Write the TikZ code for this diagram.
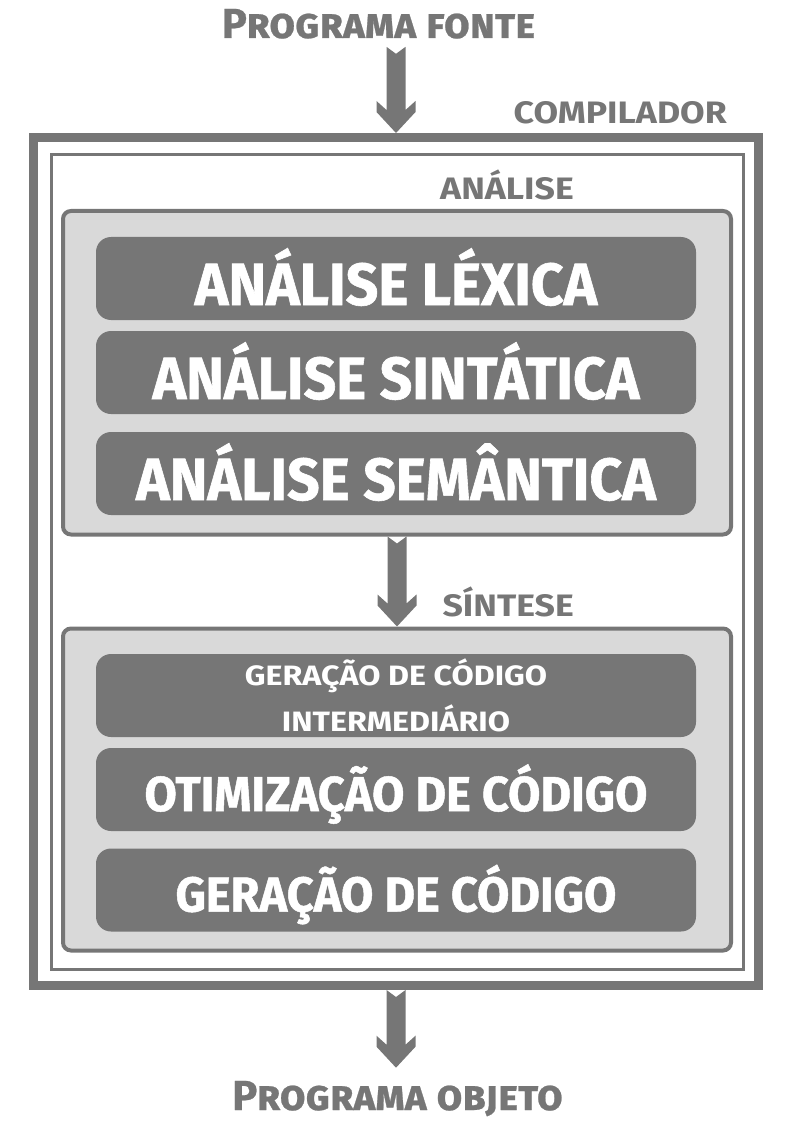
\documentclass[tikz,border=0pt]{standalone}
\usepackage{fontspec}
\setmainfont{Fira Sans}
\newfontfamily\phasefont[FakeStretch=0.958, FakeBold=1]{Fira Sans}
\newfontfamily\tagfont[FakeStretch=1.15]{Fira Sans}
\newfontfamily\titlefont[FakeStretch=1.0, FakeBold=0.6]{Fira Sans}
\usepackage{tikz}
\usetikzlibrary{positioning}
\usetikzlibrary{calc}
\definecolor{boxgray}{RGB}{118,118,118}
\definecolor{panelgray}{RGB}{217,217,217}
\newcommand{\blockarrow}[2]{ % Takes tail point and tip point as arguments, notched tail, head pointing down
    \fill[boxgray] ($(#1)+(-9.5,0)$) -- ($(#1)+(0,7)$) -- ($(#1)+(9.5,0)$) -- ($(#2)+(9.5,-23)$) -- ($(#2)+(19.5,-32)$) -- ($(#2)+(19.5,-21)$) -- (#2) -- ($(#2)+(-19.5,-21)$) -- ($(#2)+(-19.5,-32)$) -- ($(#2)+(-9.5,-23)$) -- cycle;
}
\tikzset{
    group/.style={draw=boxgray, fill=panelgray, line width=4pt, rounded corners=8pt, minimum width=668pt},
    phase/.style={fill=boxgray, rounded corners=15pt, minimum width=600pt, minimum height=83pt, text=white, inner sep=0pt},
    bigphase/.style={phase, text height=53pt, text depth=0pt, font=\phasefont\bfseries\fontsize{59.5}{60}\selectfont},
    midphase/.style={phase, text height=43pt, text depth=0pt, font=\phasefont\bfseries\fontsize{49}{50}\selectfont},
    tag/.style={text=boxgray, inner sep=0pt, font=\tagfont\bfseries\fontsize{31}{31}\selectfont},
    title/.style={text=boxgray, inner sep=0pt, font=\titlefont\bfseries\scshape\fontsize{42}{42}\selectfont}
}

\begin{document}
\begin{tikzpicture}[x=1pt, y=-1pt]
        \useasboundingbox (0,0) rectangle (794,1123);

        % Compiler frames
        \node[draw=boxgray, line width=9pt, minimum width=725pt, minimum height=848pt, inner sep=0pt] (comp) at (396,561.5) {};
        \node[draw=boxgray, line width=3pt, minimum width=692pt, minimum height=815pt, inner sep=0pt] (frame) at (397.75,562) {};
        \node[tag, anchor=base east] (compname) at (727,124) {COMPILADOR};

        % Input and output
        \node[title, anchor=base] (src) at (378.5,38) {Programa fonte};
        \node[title, anchor=base] (obj) at (397.5,1110) {Programa objeto};

        % Analysis
        \node[tag, anchor=base east] (analabel) at (574,200) {ANÁLISE};
        \node[group, minimum height=323.5pt] (ana) at (397,372.75) {};
        \node[bigphase] (lex) at (396,278.5) {ANÁLISE LÉXICA};
        \node[bigphase] (sint) at (396,372.5) {ANÁLISE SINTÁTICA};
        \node[bigphase] (sem) at (396,473.5) {ANÁLISE SEMÂNTICA};

        % Synthesis
        \node[tag, anchor=base east] (synlabel) at (574,616) {SÍNTESE};
        \node[group, minimum height=322pt] (syn) at (397,789.5) {};
        \node[phase, align=center, font=\tagfont\bfseries\fontsize{28}{46}\selectfont] (inter) at (396,695.5) {GERAÇÃO DE CÓDIGO\\INTERMEDIÁRIO};
        \node[midphase] (otim) at (396,789.5) {OTIMIZAÇÃO DE CÓDIGO};
        \node[midphase] (gen) at (396,890) {GERAÇÃO DE CÓDIGO};

        % Arrows
        \blockarrow{$(comp.north |- src.south)+(0,8)$}{comp.north}
        \blockarrow{ana.south}{syn.north}
        \blockarrow{comp.south}{$(comp.south |- obj.north)+(0,-13)$}
\end{tikzpicture}
\end{document}
